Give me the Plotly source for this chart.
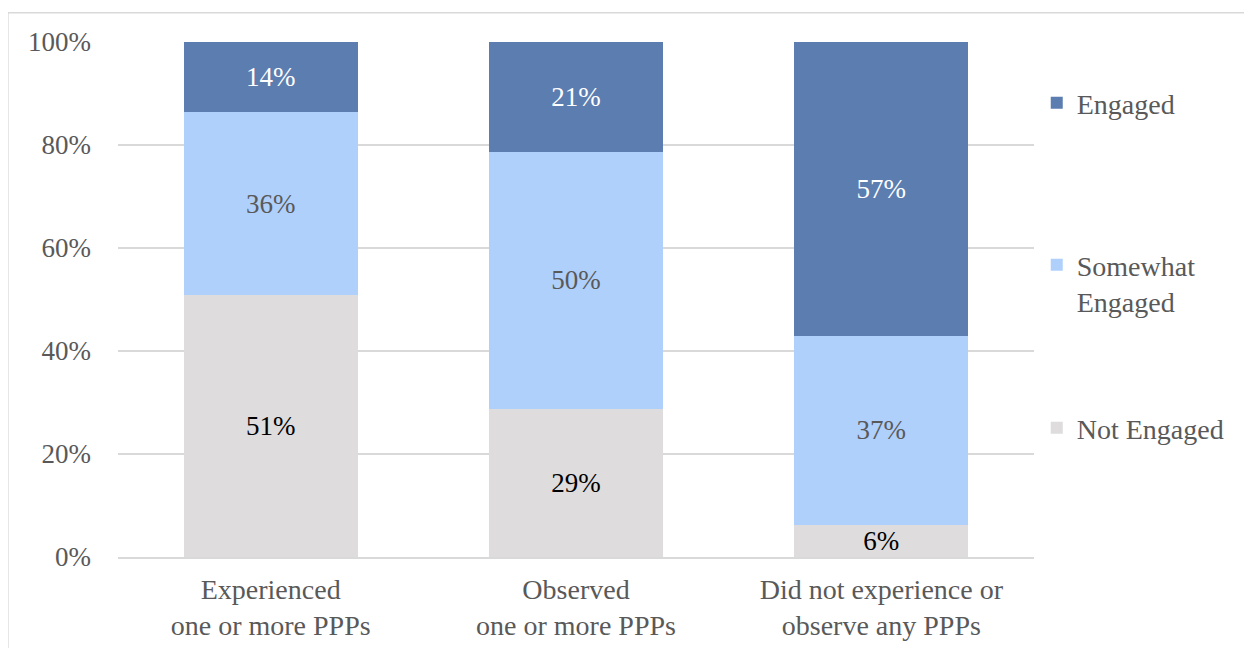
import plotly.graph_objects as go

categories = ["Experienced<br>one or more PPPs", "Observed<br>one or more PPPs",
              "Did not experience or<br>observe any PPPs"]
not_engaged = [50.8, 28.7, 6.3]
somewhat_engaged = [35.6, 50.0, 36.6]
engaged = [13.6, 21.3, 57.1]
tick_vals = [0, 20, 40, 60, 80, 100]
tick_text = ["0%", "20%", "40%", "60%", "80%", "100%"]

FONT = "Liberation Serif, Times New Roman, serif"
GRAY = "#595959"

fig = go.Figure()
series = [
    ("Not Engaged", not_engaged, "#dedcdd", "#000000", "legend3"),
    ("Somewhat<br>Engaged", somewhat_engaged, "#b0d0fc", GRAY, "legend2"),
    ("Engaged", engaged, "#5b7db0", "#ffffff", "legend"),
]
for i, (name, vals, color, tcolor, lg) in enumerate(series):
    fig.add_trace(go.Bar(
        x=categories, y=vals, name=name, legend=lg, showlegend=True,
        marker=dict(color=color, line=dict(width=0)),
        texttemplate="%{y:.0f}%", textposition="inside", insidetextanchor="middle",
        textangle=0,
        textfont=dict(color=tcolor, size=27, family=FONT),
        hoverinfo="skip",
    ))

leg_common = dict(x=1.003, xanchor="left", yanchor="middle", valign="top",
                  font=dict(size=28, color=GRAY, family=FONT),
                  bgcolor="rgba(0,0,0,0)", itemwidth=30)

fig.update_layout(
    barmode="stack",
    bargap=0.43,
    width=1244, height=640,
    showlegend=True,
    margin=dict(l=110, r=218, t=34, b=91, autoexpand=False),
    paper_bgcolor="white", plot_bgcolor="white",
    font=dict(family=FONT, size=28, color=GRAY),
    uniformtext=dict(minsize=27, mode="show"),
    legend=dict(y=0.8816, **leg_common),
    legend2=dict(y=0.532, **leg_common),
    legend3=dict(y=0.2505, **leg_common),
    xaxis=dict(showline=True, linecolor="#d9d9d9", linewidth=2, ticks="",
               ticklabelstandoff=6, automargin=False,
               tickfont=dict(size=28, color=GRAY, family=FONT)),
    yaxis=dict(range=[0, 100], tickvals=tick_vals, ticktext=tick_text,
               showgrid=True, gridcolor="#d9d9d9", gridwidth=1.5,
               zeroline=False, ticks="", ticklen=0, ticklabelstandoff=26,
               automargin=False,
               tickfont=dict(size=27, color=GRAY, family=FONT)),
    shapes=[dict(type="rect", xref="paper", yref="paper",
                 x0=-0.1202, x1=1.3, y0=-0.3, y1=1.057,
                 line=dict(color="#d9d9d9", width=1.5), fillcolor="rgba(0,0,0,0)",
                 layer="below")],
)

fig.write_html("out.html")
